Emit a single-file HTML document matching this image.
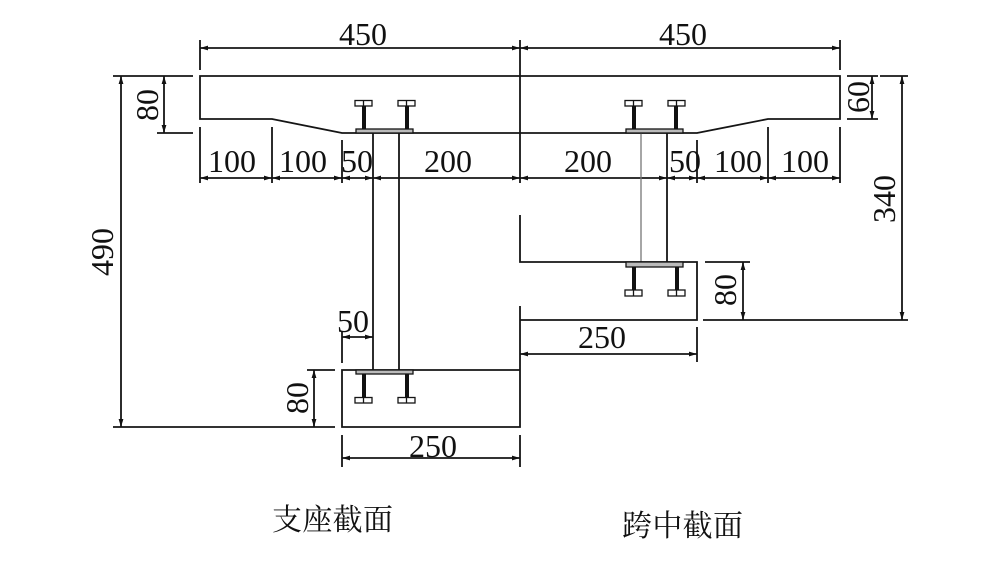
<!DOCTYPE html>
<html><head><meta charset="utf-8">
<style>
html,body{margin:0;padding:0;background:#fff;}
svg{display:block;}
text{font-family:"Liberation Serif","Noto Serif CJK SC",serif;fill:#111;}
</style></head>
<body>
<svg width="1000" height="562" viewBox="0 0 1000 562" xmlns="http://www.w3.org/2000/svg">
<defs>
<marker id="a" viewBox="0 0 10 6" refX="10" refY="3" markerWidth="8" markerHeight="5" orient="auto-start-reverse" markerUnits="userSpaceOnUse"><path d="M0,0 L10,3 L0,6 z" fill="#111"/></marker>
</defs>
<g stroke="#151515" stroke-width="1.8" fill="none">
<!-- deck -->
<path d="M200,76 L840,76 L840,119 L768,119 L697,133 L342,133 L272,119 L200,119 Z"/>
<!-- center line -->
<line x1="520" y1="40" x2="520" y2="183"/>
<!-- top dims -->
<line x1="200" y1="40" x2="200" y2="70"/>
<line x1="840" y1="40" x2="840" y2="70"/>
<line x1="200" y1="48" x2="520" y2="48" marker-start="url(#a)" marker-end="url(#a)"/>
<line x1="520" y1="48" x2="840" y2="48" marker-start="url(#a)" marker-end="url(#a)"/>
<!-- left 80 -->
<line x1="113" y1="76" x2="193" y2="76"/>
<line x1="157" y1="133" x2="193" y2="133"/>
<line x1="164" y1="76" x2="164" y2="133" marker-start="url(#a)" marker-end="url(#a)"/>
<!-- 490 -->
<line x1="121" y1="76" x2="121" y2="427" marker-start="url(#a)" marker-end="url(#a)"/>
<line x1="113" y1="427" x2="335" y2="427"/>
<!-- bottom-left 80 -->
<line x1="307" y1="370" x2="335" y2="370"/>
<line x1="314" y1="370" x2="314" y2="427" marker-start="url(#a)" marker-end="url(#a)"/>
<!-- bottom dim row ext lines -->
<line x1="200" y1="127" x2="200" y2="183"/>
<line x1="272" y1="127" x2="272" y2="183"/>
<line x1="342" y1="140" x2="342" y2="183"/>
<line x1="697" y1="140" x2="697" y2="183"/>
<line x1="768" y1="127" x2="768" y2="183"/>
<line x1="840" y1="127" x2="840" y2="183"/>
<g marker-start="url(#a)" marker-end="url(#a)">
<line x1="200" y1="178" x2="272" y2="178"/>
<line x1="272" y1="178" x2="342" y2="178"/>
<line x1="342" y1="178" x2="373" y2="178"/>
<line x1="373" y1="178" x2="520" y2="178"/>
<line x1="520" y1="178" x2="667" y2="178"/>
<line x1="667" y1="178" x2="697" y2="178"/>
<line x1="697" y1="178" x2="768" y2="178"/>
<line x1="768" y1="178" x2="840" y2="178"/>
</g>
<!-- webs -->
<line x1="373" y1="133" x2="373" y2="370"/>
<line x1="399" y1="133" x2="399" y2="370"/>
<line x1="641" y1="133" x2="641" y2="262" stroke="#777" stroke-width="1.3"/>
<line x1="667" y1="133" x2="667" y2="262"/>
<!-- support bottom slab -->
<path d="M520,306 L520,427 L342,427 L342,370 L520,370"/>
<line x1="342" y1="332" x2="342" y2="363"/>
<line x1="342" y1="337" x2="373" y2="337" marker-start="url(#a)" marker-end="url(#a)"/>
<line x1="342" y1="435" x2="342" y2="467"/>
<line x1="520" y1="435" x2="520" y2="467"/>
<line x1="342" y1="458" x2="520" y2="458" marker-start="url(#a)" marker-end="url(#a)"/>
<!-- mid-span bottom slab -->
<path d="M520,215 L520,262 L697,262 L697,320 L520,320"/>
<line x1="697" y1="327" x2="697" y2="362"/>
<line x1="520" y1="354" x2="697" y2="354" marker-start="url(#a)" marker-end="url(#a)"/>
<line x1="705" y1="262" x2="750" y2="262"/>
<line x1="703" y1="320" x2="908" y2="320"/>
<line x1="743" y1="262" x2="743" y2="320" marker-start="url(#a)" marker-end="url(#a)"/>
<!-- 340 -->
<line x1="880" y1="76" x2="908" y2="76"/>
<line x1="902" y1="76" x2="902" y2="320" marker-start="url(#a)" marker-end="url(#a)"/>
<!-- 60 -->
<line x1="847" y1="76" x2="878" y2="76"/>
<line x1="847" y1="119" x2="878" y2="119"/>
<line x1="872" y1="76" x2="872" y2="119" marker-start="url(#a)" marker-end="url(#a)"/>
</g>
<!-- plates and studs -->
<g stroke="#151515" stroke-width="1.3">
<rect x="356" y="129" width="57" height="4" fill="#bbb"/>
<rect x="355" y="100.5" width="17" height="5.5" fill="#fff"/><line x1="363.5" y1="100.5" x2="363.5" y2="106"/>
<rect x="398" y="100.5" width="17" height="5.5" fill="#fff"/><line x1="406.5" y1="100.5" x2="406.5" y2="106"/>
<rect x="626" y="129" width="57" height="4" fill="#bbb"/>
<rect x="625" y="100.5" width="17" height="5.5" fill="#fff"/><line x1="633.5" y1="100.5" x2="633.5" y2="106"/>
<rect x="668" y="100.5" width="17" height="5.5" fill="#fff"/><line x1="676.5" y1="100.5" x2="676.5" y2="106"/>
<rect x="356" y="370" width="57" height="4" fill="#bbb"/>
<rect x="355" y="397.5" width="17" height="5.5" fill="#fff"/><line x1="363.5" y1="397.5" x2="363.5" y2="403"/>
<rect x="398" y="397.5" width="17" height="5.5" fill="#fff"/><line x1="406.5" y1="397.5" x2="406.5" y2="403"/>
<rect x="626" y="262" width="57" height="5" fill="#bbb"/>
<rect x="625" y="290" width="17" height="6" fill="#fff"/><line x1="633.5" y1="290" x2="633.5" y2="296"/>
<rect x="668" y="290" width="17" height="6" fill="#fff"/><line x1="676.5" y1="290" x2="676.5" y2="296"/>
</g>
<g fill="#111">
<rect x="362" y="106" width="4" height="23"/>
<rect x="405" y="106" width="4" height="23"/>
<rect x="632" y="106" width="4" height="23"/>
<rect x="674" y="106" width="4" height="23"/>
<rect x="362" y="374" width="4" height="24"/>
<rect x="405" y="374" width="4" height="24"/>
<rect x="632" y="267" width="4" height="23"/>
<rect x="675" y="267" width="4" height="23"/>
</g>
<!-- texts -->
<g font-size="32" text-anchor="middle">
<text x="363" y="45">450</text>
<text x="683" y="45">450</text>
<text x="232" y="172">100</text>
<text x="303" y="172">100</text>
<text x="357" y="172">50</text>
<text x="448" y="172">200</text>
<text x="588" y="172">200</text>
<text x="685" y="172">50</text>
<text x="738" y="172">100</text>
<text x="805" y="172">100</text>
<text x="353" y="332">50</text>
<text x="602" y="348">250</text>
<text x="433" y="457">250</text>
<text x="158" y="105" transform="rotate(-90 158 105)">80</text>
<text x="113" y="252" transform="rotate(-90 113 252)">490</text>
<text x="308" y="398" transform="rotate(-90 308 398)">80</text>
<text x="869" y="97" transform="rotate(-90 869 97)">60</text>
<text x="895" y="199" transform="rotate(-90 895 199)">340</text>
<text x="736" y="290" transform="rotate(-90 736 290)">80</text>
</g>
<g font-size="30" style="font-family:'Noto Serif CJK SC','Noto Sans CJK SC',serif">
<text x="272" y="530" textLength="121">支座截面</text>
<text x="622" y="536" textLength="121">跨中截面</text>
</g>
</svg>
</body></html>
